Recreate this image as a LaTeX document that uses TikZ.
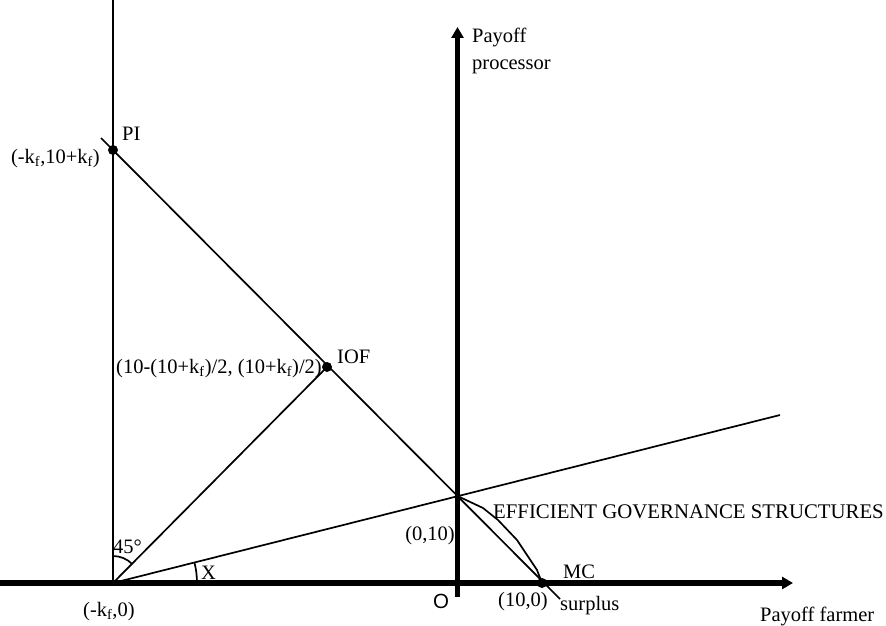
\documentclass[tikz,border=0pt]{standalone}
\usepackage{fontspec}
\setmainfont{Liberation Serif}
\newfontfamily\sansO{Liberation Sans}
\usetikzlibrary{arrows.meta}
\begin{document}
\begin{tikzpicture}[x=1pt,y=-1pt,
  thinline/.style={line width=1.7pt},
  axisline/.style={line width=5.5pt,-{Triangle[length=11pt,width=12pt]}},
  dot/.style={circle,fill=black,inner sep=0pt,minimum size=10pt},
  lbl/.style={inner sep=0pt,font=\fontsize{20.5}{27}\selectfont},
]
\useasboundingbox (0,0) rectangle (886,626);
% key points
\coordinate (hstart) at (0,583);
\coordinate (hend) at (793,583);
\coordinate (vstart) at (457.5,597);
\coordinate (vend) at (457.5,27);
\coordinate (ltop) at (113,0);
\coordinate (Kf) at (113,583);
\coordinate (Z) at (457.5,496);
\coordinate (dstart) at (101,138);
\coordinate (dend) at (560,599);
\coordinate (xend) at (780,415);
\coordinate (e1) at (483,508);
\coordinate (e2) at (498,520);
\coordinate (e3) at (517,540);
\coordinate (e4) at (537,570);
\node[dot] (PI) at (113,150) {};
\node[dot] (IOF) at (327,367) {};
\node[dot] (MC) at (542,583) {};
% lines
\draw[thinline] (ltop) -- (Kf);
\draw[thinline] (dstart) -- (dend);
\draw[thinline] (Kf) -- (IOF.center);
\draw[thinline] (Kf) -- (xend);
\draw[thinline] (Z) -- (e1) -- (e2) -- (e3) -- (e4) -- (MC.center);
\draw[thinline] (Kf) ++(0,-27) arc[start angle=-90,end angle=-45,radius=27];
\draw[thinline] (Kf) ++(84,0) arc[start angle=0,end angle=-14.2,radius=84];
% axes
\draw[axisline] (hstart) -- (hend);
\draw[axisline] (vstart) -- (vend);
% labels
\node[lbl,anchor=base west] (lPI) at (122,140) {PI};
\node[lbl,anchor=base east] (lPIc) at (100,163) {(-k\textsubscript{f},10+k\textsubscript{f})};
\node[lbl,anchor=base west] (lIOF) at (337,363) {IOF};
\node[lbl,anchor=base east] (lIOFc) at (322,373) {(10-(10+k\textsubscript{f})/2, (10+k\textsubscript{f})/2)};
\node[lbl,anchor=base west] (l45) at (113,553) {45°};
\node[lbl,anchor=base west] (lX) at (201,579) {X};
\node[lbl,anchor=base west] (lKf) at (83,616) {(-k\textsubscript{f},0)};
\node[lbl,anchor=base west] (lO) at (433,608) {\sansO O};
\node[lbl,anchor=base east] (lZ) at (455,540) {(0,10)};
\node[lbl,anchor=base east,font=\fontsize{20.8}{27}\selectfont] (lEff) at (884,518) {EFFICIENT GOVERNANCE STRUCTURES};
\node[lbl,anchor=base west] (lMC) at (563,578) {MC};
\node[lbl,anchor=base west] (l100) at (498,606) {(10,0)};
\node[lbl,anchor=base west] (lsur) at (560,610) {surplus};
\node[lbl,anchor=base west] (lpf) at (760,621) {Payoff farmer};
\node[lbl,anchor=base west] (lpp1) at (472,43) {Payoff};
\node[lbl,anchor=base west] (lpp2) at (472,70) {processor};
\end{tikzpicture}
\end{document}
